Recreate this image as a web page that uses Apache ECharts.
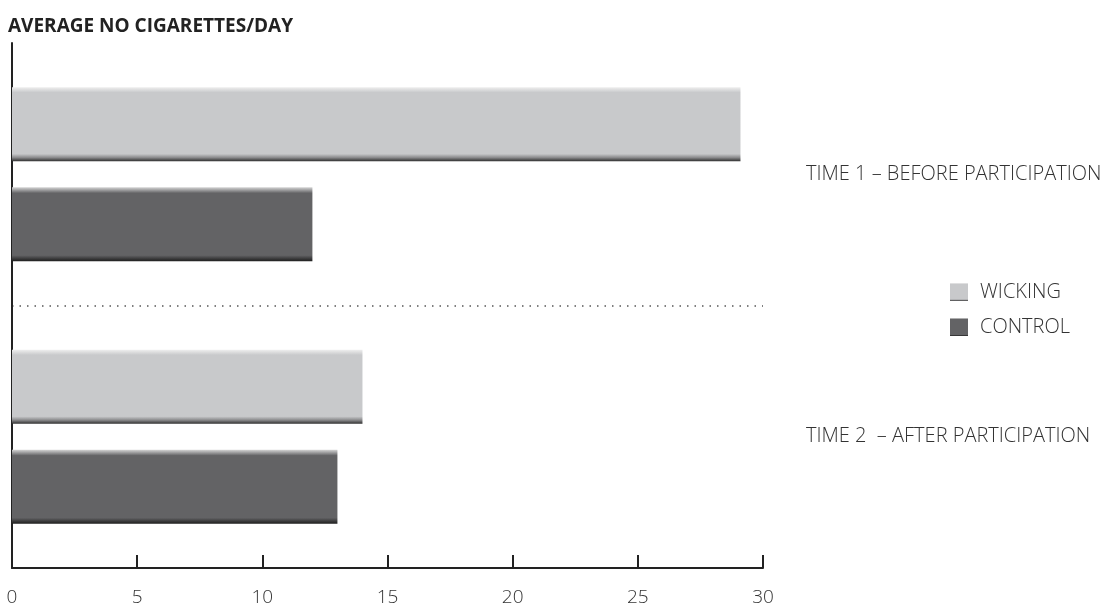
<!DOCTYPE html>
<html><head><meta charset="utf-8">
<script src="https://cdn.jsdelivr.net/npm/echarts@6/dist/echarts.min.js"></script>
<style>html,body{margin:0;padding:0;background:#fff}#c{width:1101px;height:606px}</style>
</head><body><div id="c"></div>
<script>
const categories = ['TIME 1 – BEFORE PARTICIPATION', 'TIME 2  – AFTER PARTICIPATION'];
const wicking = [29.1, 14];
const control = [12, 13];
const xTicks = [0, 5, 10, 15, 20, 25, 30];

const FONT = '"Open Sans", "Noto Sans", sans-serif';
const grad = (stops) => new echarts.graphic.LinearGradient(0, 0, 0, 1, stops);
const wickColor = grad([
  {offset: 0, color: '#eeeeee'}, {offset: 0.07, color: '#c8c9cb'},
  {offset: 0.90, color: '#c8c9cb'}, {offset: 0.95, color: '#8a8a8c'}, {offset: 1, color: '#2e2e2e'}]);
const ctrlColor = grad([
  {offset: 0, color: '#d6d6d6'}, {offset: 0.08, color: '#636365'},
  {offset: 0.92, color: '#636365'}, {offset: 1, color: '#1e1e1e'}]);

const chart = echarts.init(document.getElementById('c'), null, {renderer: 'canvas'});
chart.setOption({
  animation: false,
  title: {text: 'AVERAGE NO CIGARETTES/DAY', left: 3, top: 12,
    textStyle: {fontFamily: FONT, fontWeight: 'bold', fontSize: 19, color: '#222'}},
  legend: {orient: 'vertical', left: 945, top: 277, itemWidth: 18, itemHeight: 18, itemGap: 15,
    icon: 'rect',
    textStyle: {fontFamily: FONT, fontWeight: 300, fontSize: 20, lineHeight: 18, color: '#333', padding: [0, 0, 0, 7]},
    data: ['WICKING', 'CONTROL']},
  grid: {left: 12, right: 338, top: 43, bottom: 38, containLabel: false, outerBoundsMode: 'none'},
  xAxis: {type: 'value', min: 0, max: 30, interval: 5,
    axisLine: {show: true, lineStyle: {color: '#222', width: 2}},
    axisTick: {show: true, inside: true, length: 13, lineStyle: {color: '#222', width: 2}},
    axisLabel: {fontFamily: FONT, fontWeight: 300, fontSize: 19, color: '#333', margin: 20,
      formatter: (v) => xTicks.includes(v) ? String(v) : ''},
    splitLine: {show: false}},
  yAxis: [
    {type: 'category', data: categories, inverse: true, position: 'left',
      axisLine: {show: true, lineStyle: {color: '#222', width: 2}},
      axisTick: {show: false}, axisLabel: {show: false},
      splitLine: {show: true, showMinLine: false, showMaxLine: false,
        lineStyle: {type: [1.5, 6], color: '#555', width: 1.5}}},
    {type: 'category', data: categories, inverse: true, position: 'right',
      axisLine: {show: false}, axisTick: {show: false}, splitLine: {show: false},
      axisLabel: {fontFamily: FONT, fontWeight: 300, fontSize: 20, color: '#333', margin: 43, align: 'left',
        padding: [6, 0, 0, 0]}}
  ],
  series: [
    {name: 'WICKING', type: 'bar', data: wicking, barWidth: 74, barGap: '35%',
      itemStyle: {color: wickColor}},
    {name: 'CONTROL', type: 'bar', data: control, barWidth: 74, barGap: '35%',
      itemStyle: {color: ctrlColor}}
  ]
});
</script></body></html>
